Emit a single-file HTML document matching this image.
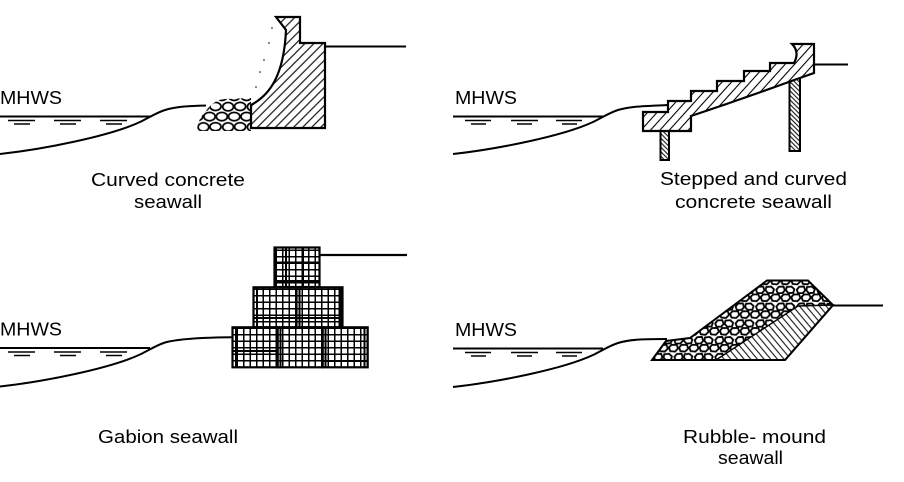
<!DOCTYPE html>
<html>
<head>
<meta charset="utf-8">
<style>
html,body{margin:0;padding:0;background:#fff;}
svg{display:block;}
text{font-family:"Liberation Sans",Arial,sans-serif;font-size:18px;fill:#000;}
</style>
</head>
<body>
<svg xmlns="http://www.w3.org/2000/svg" width="904" height="482" viewBox="0 0 904 482">
<defs>
  <pattern id="h1" width="6.4" height="10" patternUnits="userSpaceOnUse" patternTransform="rotate(45)">
    <rect width="6.4" height="10" fill="#fff"/>
    <line x1="3.2" y1="-1" x2="3.2" y2="11" stroke="#000" stroke-width="1.1"/>
  </pattern>
  <pattern id="h2" width="7" height="10" patternUnits="userSpaceOnUse" patternTransform="rotate(42)">
    <rect width="7" height="10" fill="#fff"/>
    <line x1="3.5" y1="-1" x2="3.5" y2="11" stroke="#000" stroke-width="1.1"/>
  </pattern>
  <pattern id="h3" width="3.2" height="10" patternUnits="userSpaceOnUse" patternTransform="rotate(-45)">
    <rect width="3.2" height="10" fill="#fff"/>
    <line x1="1.6" y1="-1" x2="1.6" y2="11" stroke="#000" stroke-width="1"/>
  </pattern>
  <pattern id="h4" width="5.1" height="10" patternUnits="userSpaceOnUse" patternTransform="rotate(-40)">
    <rect width="5.1" height="10" fill="#fff"/>
    <line x1="2.55" y1="-1" x2="2.55" y2="11" stroke="#000" stroke-width="1"/>
  </pattern>
  <pattern id="grid" width="6.5" height="6.5" patternUnits="userSpaceOnUse">
    <rect width="6.5" height="6.5" fill="#fff"/>
    <path d="M3.25,0V6.5M0,3.25H6.5" stroke="#000" stroke-width="1.5"/>
  </pattern>
  <pattern id="rk" width="17" height="14" patternUnits="userSpaceOnUse" patternTransform="scale(1.2)">
    <rect width="17" height="14" fill="#fff"/>
    <g fill="#fff" stroke="#000" stroke-width="1.5" stroke-linejoin="round">
      <path d="M1,3.5 L3,1 L7,0.8 L8,4 L6,6.3 L2,6.2 Z"/>
      <path d="M9.5,1.2 L13.5,0.8 L16,3 L15,6 L11,6.3 L9,4 Z"/>
      <path d="M5,9.5 L7,7.3 L11.5,7.4 L12.5,10.5 L10,13 L6,12.6 Z"/>
      <path d="M-3.5,9.5 L-1.5,7.3 L3,7.4 L4,10.5 L1.5,13 L-2.5,12.6 Z"/>
      <path d="M13.5,9.5 L15.5,7.3 L20,7.4 L21,10.5 L18.5,13 L14.5,12.6 Z"/>
    </g>
  </pattern>
  <pattern id="rk2" width="17" height="14" patternUnits="userSpaceOnUse" patternTransform="scale(1.45)">
    <rect width="17" height="14" fill="#fff"/>
    <g fill="#fff" stroke="#000" stroke-width="1.2">
      <ellipse cx="4.3" cy="3.6" rx="3.7" ry="2.9"/>
      <ellipse cx="12.6" cy="3.4" rx="3.8" ry="2.8"/>
      <ellipse cx="8.5" cy="10.4" rx="3.9" ry="2.9"/>
      <ellipse cx="0" cy="10.4" rx="3.8" ry="2.9"/>
      <ellipse cx="17" cy="10.4" rx="3.8" ry="2.9"/>
    </g>
  </pattern>
</defs>

<rect width="904" height="482" fill="#fff"/>

<!-- ============ TOP LEFT: Curved concrete seawall ============ -->
<g>
  <text x="0" y="104" textLength="62" lengthAdjust="spacingAndGlyphs">MHWS</text>
  <path d="M0,116.5H150" stroke="#000" stroke-width="2" fill="none"/>
  <path d="M8,120.5H35M54,120.5H81M100,120.5H127" stroke="#000" stroke-width="1.5"/>
  <path d="M14,124H30M60,124H76M106,124H122" stroke="#000" stroke-width="1.5"/>
  <path d="M0,154 C45,149 110,136 140,122 C150,117 156,113 165,110 C178,106 192,106 206,105.5" stroke="#000" stroke-width="2" fill="none"/>
  <path d="M197,131 C197,124 200,117 206,111 C210,105 216,100 224,99 L251,98 V131 Z" fill="url(#rk2)" stroke="none"/>
  <path d="M276,17 H300 V43 H325 V128 H251 V105 C270,95 284,75 286,30 L276,17 Z" fill="url(#h1)" stroke="#000" stroke-width="2.2" stroke-linejoin="miter"/>
  <path d="M325,46.5 H406" stroke="#000" stroke-width="2"/>
  <g fill="#000">
    <circle cx="272" cy="28" r="0.8"/>
    <circle cx="269" cy="43" r="0.8"/>
    <circle cx="264" cy="60" r="0.8"/>
    <circle cx="260" cy="72" r="0.8"/>
    <circle cx="256" cy="87" r="0.8"/>
  </g>
  <text x="91" y="186" textLength="154" lengthAdjust="spacingAndGlyphs">Curved concrete</text>
  <text x="134" y="208" textLength="68" lengthAdjust="spacingAndGlyphs">seawall</text>
</g>

<!-- ============ TOP RIGHT: Stepped and curved ============ -->
<g transform="translate(453,0)">
  <text x="2" y="104" textLength="62" lengthAdjust="spacingAndGlyphs">MHWS</text>
  <path d="M0,116.5H150" stroke="#000" stroke-width="2" fill="none"/>
  <path d="M12,120.5H38M58,120.5H85M103,120.5H129" stroke="#000" stroke-width="1.5"/>
  <path d="M18,124H33M64,124H79M109,124H124" stroke="#000" stroke-width="1.5"/>
  <path d="M0,154 C45,149 110,136 140,122 C150,117 156,113 165,110 C178,106 195,106 215,105" stroke="#000" stroke-width="2" fill="none"/>
</g>
<rect x="660.5" y="131" width="8.5" height="29" fill="url(#h3)" stroke="#000" stroke-width="2"/>
<rect x="789.5" y="76" width="10.5" height="75" fill="url(#h3)" stroke="#000" stroke-width="2"/>
<path d="M643,112 H668 V101 H691 V91 H717 V81 H744 V71 H770 V63 H794 Q800,52 792,44 H814 V73 L797,79 Q745,98 691,116 V131 H643 Z" fill="url(#h2)" stroke="#000" stroke-width="2.2"/>
<path d="M814,64.5 H848" stroke="#000" stroke-width="2"/>
<text x="660" y="185" textLength="187" lengthAdjust="spacingAndGlyphs">Stepped and curved</text>
<text x="675" y="208" textLength="157" lengthAdjust="spacingAndGlyphs">concrete seawall</text>

<!-- ============ BOTTOM LEFT: Gabion ============ -->
<g transform="translate(0,231.5)">
  <text x="0" y="104" textLength="62" lengthAdjust="spacingAndGlyphs">MHWS</text>
  <path d="M0,116.5H150" stroke="#000" stroke-width="2" fill="none"/>
  <path d="M8,120.5H35M54,120.5H81M100,120.5H127" stroke="#000" stroke-width="1.5"/>
  <path d="M14,124H30M60,124H76M106,124H122" stroke="#000" stroke-width="1.5"/>
  <path d="M0,155 C45,150 110,137 140,123 C150,118 156,114 165,111 C180,107 205,106 233,105.8" stroke="#000" stroke-width="2" fill="none"/>
</g>
<g stroke="#000" stroke-width="2.2">
  <rect x="274.5" y="247.5" width="45" height="39.5" fill="url(#grid)"/>
  <rect x="253.5" y="287.3" width="43" height="40" fill="url(#grid)"/>
  <rect x="296.5" y="287.3" width="46" height="40" fill="url(#grid)"/>
  <rect x="232.5" y="327.3" width="45.2" height="40" fill="url(#grid)"/>
  <rect x="277.7" y="327.3" width="45" height="40" fill="url(#grid)"/>
  <rect x="322.7" y="327.3" width="45" height="40" fill="url(#grid)"/>
</g>
<g stroke="#000" stroke-width="2">
  <path d="M286,247.5V287 M303,247.5V287 M274.5,262.5H319.5 M274.5,281H319.5"/>
  <path d="M299.5,287.3V327.3 M257,287.3V327.3 M339.5,287.3V327.3 M253.5,318H342.5"/>
  <path d="M232.5,351H277.7 M280.5,327.3V367.3 M325.5,327.3V367.3 M236,327.3V367.3 M364.5,327.3V367.3 M322.7,361H367.7"/>
</g>
<path d="M319.5,255 H407" stroke="#000" stroke-width="2.2"/>
<text x="98" y="443" textLength="140" lengthAdjust="spacingAndGlyphs">Gabion seawall</text>

<!-- ============ BOTTOM RIGHT: Rubble mound ============ -->
<g transform="translate(453,232)">
  <text x="2" y="104" textLength="62" lengthAdjust="spacingAndGlyphs">MHWS</text>
  <path d="M0,116.5H150" stroke="#000" stroke-width="2" fill="none"/>
  <path d="M12,120.5H38M58,120.5H85M103,120.5H129" stroke="#000" stroke-width="1.5"/>
  <path d="M18,124H33M64,124H79M109,124H124" stroke="#000" stroke-width="1.5"/>
  <path d="M0,155 C45,150 110,137 140,123 C150,118 156,114 165,111 C178,107 195,107 214,107" stroke="#000" stroke-width="2" fill="none"/>
</g>
<path d="M652,360 L666,341 L690,338 L767,280.5 L808,280.5 L833,305 L785,360 Z" fill="url(#rk)" stroke="#000" stroke-width="2"/>
<path d="M716,360 L798,306 L833,305 L785,360 Z" fill="url(#h4)" stroke="#000" stroke-width="1.4"/>
<path d="M652,360 H785 L833,305" stroke="#000" stroke-width="2" fill="none"/>
<path d="M833,305.5 H883" stroke="#000" stroke-width="2"/>
<text x="683" y="443" textLength="143" lengthAdjust="spacingAndGlyphs">Rubble- mound</text>
<text x="718" y="464" textLength="65" lengthAdjust="spacingAndGlyphs">seawall</text>
</svg>
</body>
</html>
